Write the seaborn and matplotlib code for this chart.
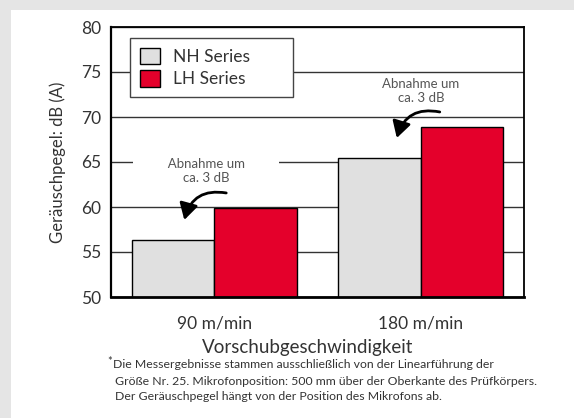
import pandas as pd
import numpy as np
import seaborn as sns
import matplotlib.pyplot as plt
from matplotlib.patches import Rectangle

# DATOS
geschwindigkeiten = ['90 m/min', '180 m/min']
serien = ['NH Series', 'LH Series']
nh_db = [56.3, 65.4]
lh_db = [59.9, 68.9]
farben = ['#e0e0e0', '#e4002b']
y_ticks = [50, 55, 60, 65, 70, 75, 80]

df = pd.DataFrame({
    'geschwindigkeit': geschwindigkeiten * 2,
    'serie': [serien[0]] * 2 + [serien[1]] * 2,
    'db': nh_db + lh_db,
})

sns.set_style('white')
plt.rcParams['font.family'] = ['Lato', 'DejaVu Sans']

W, H = 574, 418
fig = plt.figure(figsize=(W / 100, H / 100), dpi=100)
fig.patch.set_facecolor('#e5e5e5')
fig.patches.append(Rectangle((11 / W, 0), 1, 1 - 10 / H, transform=fig.transFigure,
                             facecolor='white', edgecolor='none', zorder=-1))

ax = fig.add_axes([111 / W, 1 - 297 / H, 413 / W, 270 / H])
ax.set_facecolor('white')

sns.barplot(data=df, x='geschwindigkeit', y='db', hue='serie', hue_order=serien,
            palette=farben, saturation=1, edgecolor='black', linewidth=1, width=0.8,
            ax=ax, zorder=2)

ax.set_ylim(50, 80)
ax.set_xlim(-0.5, 1.5)
ax.set_yticks(y_ticks)
ax.yaxis.grid(True, color='#333333', linewidth=1)
ax.set_axisbelow(True)
for s in ax.spines.values():
    s.set_color('black')
    s.set_linewidth(1.3)
ax.spines['bottom'].set_linewidth(2)
ax.spines['left'].set_linewidth(1.6)

texto = '#333333'
ax.tick_params(axis='y', length=0, pad=7, labelsize=12.5, labelcolor=texto)
ax.tick_params(axis='x', which='major', length=0, pad=13, labelsize=12.5, labelcolor=texto)
ax.set_xticks([0.5], minor=True)
ax.tick_params(axis='x', which='minor', direction='in', length=5, width=1.2, color='black')

ax.set_ylabel('Geräuschpegel: dB (A)', fontsize=12, color=texto)
ax.yaxis.set_label_coords(-0.11, 0.5)
ax.set_xlabel('Vorschubgeschwindigkeit', fontsize=13.5, color=texto)
ax.xaxis.set_label_coords(0.477, -0.155)

# LEYENDA
handles, labels = ax.get_legend_handles_labels()
ax.get_legend().remove()
leg = ax.legend(handles, labels, loc='upper left', bbox_to_anchor=(0.046, 0.759, 0.395, 0.2),
                mode='expand', borderaxespad=0, fancybox=False, framealpha=1,
                edgecolor='#444444', fontsize=12.5, handlelength=1.15, handleheight=1.1,
                handletextpad=0.8, labelspacing=0.3, borderpad=0.55)
leg.get_frame().set_linewidth(1)
for t in leg.get_texts():
    t.set_color(texto)

# ANOTACIONES
ax.text(-0.04, 64.0, '          Abnahme um          \nca. 3 dB', ha='center', va='center',
        fontsize=9.5, color='#555555', linespacing=1.25, zorder=3,
        bbox=dict(facecolor='white', edgecolor='none', pad=0.5))
ax.text(1.0, 72.9, 'Abnahme um\nca. 3 dB', ha='center', va='center',
        fontsize=9.5, color='#555555', linespacing=1.25, zorder=3)

pfeil = dict(arrowstyle='-|>,head_length=0.7,head_width=0.4', connectionstyle='arc3,rad=0.45',
             lw=2, color='black', mutation_scale=14, shrinkA=0, shrinkB=0)
ax.annotate('', xy=(-0.145, 58.56), xytext=(0.058, 61.56), arrowprops=pfeil, zorder=4)
ax.annotate('', xy=(0.884, 67.67), xytext=(1.092, 70.56), arrowprops=pfeil, zorder=4)

# NOTA AL PIE
fig.text(107.5 / W, 1 - 365 / H, '*', fontsize=8, color=texto, va='baseline')
fig.text(113 / W, 1 - 368 / H, 'Die Messergebnisse stammen ausschließlich von der Linearführung der',
         fontsize=8.8, color=texto, va='baseline')
fig.text(115 / W, 1 - 385 / H, 'Größe Nr. 25. Mikrofonposition: 500 mm über der Oberkante des Prüfkörpers.',
         fontsize=8.8, color=texto, va='baseline')
fig.text(115 / W, 1 - 400 / H, 'Der Geräuschpegel hängt von der Position des Mikrofons ab.',
         fontsize=8.8, color=texto, va='baseline')

fig.savefig('out.png', dpi=100)
